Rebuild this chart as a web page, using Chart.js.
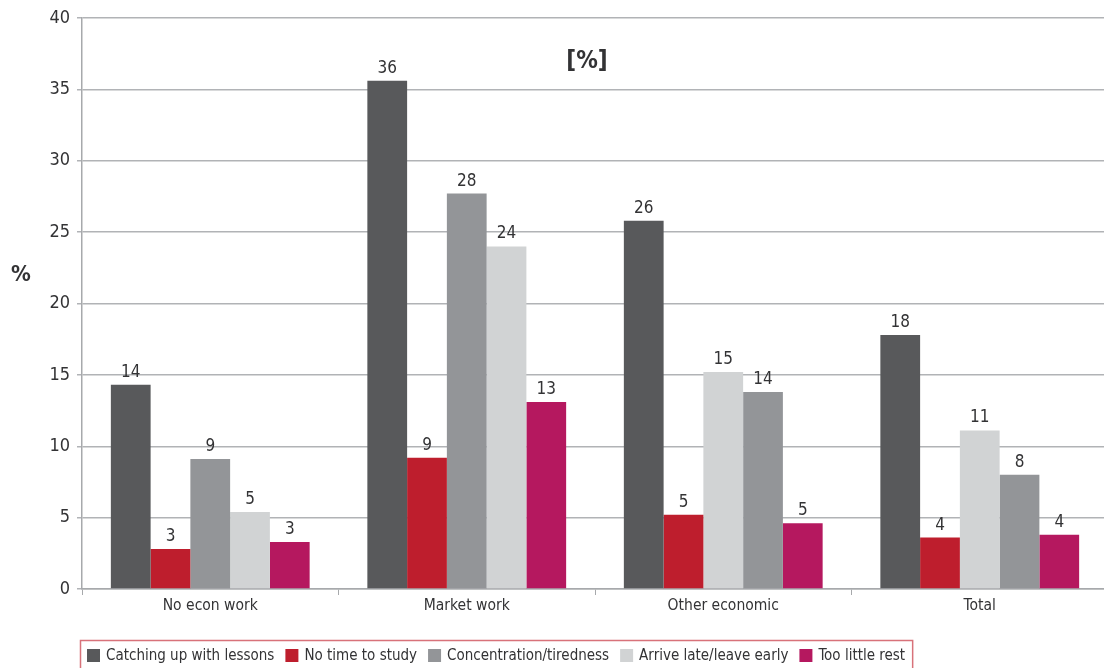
<!DOCTYPE html>
<html>
<head>
<meta charset="utf-8">
<script src="https://cdn.jsdelivr.net/npm/chart.js@4.4.1/dist/chart.umd.min.js"></script>
<style>
  html, body { margin: 0; padding: 0; background: #fff; overflow: hidden; }
  #wrap { width: 1108px; height: 668px; }
</style>
</head>
<body>
<div id="wrap"><canvas id="chart" width="1108" height="668"></canvas></div>
<script>
const categories = ['No econ work', 'Market work', 'Other economic', 'Total'];
const seriesNames = ['Catching up with lessons', 'No time to study', 'Concentration/tiredness', 'Arrive late/leave early', 'Too little rest'];
const seriesColors = ['#58595b', '#be1e2d', '#939598', '#d1d3d4', '#b5185f'];

const catchingUp = [14.3, 35.6, 25.8, 17.8];
const noTimeToStudy = [2.8, 9.2, 5.2, 3.6];
const concentration = [9.1, 27.7, 13.8, 8.0];
const arriveLate = [5.4, 24.0, 15.2, 11.1];
const tooLittleRest = [3.3, 13.1, 4.6, 3.8];

// order of the series inside each group (the last two groups swap the grey bars)
const barOrder = [[0, 1, 2, 3, 4], [0, 1, 2, 3, 4], [0, 1, 3, 2, 4], [0, 1, 3, 2, 4]];

const yMax = 40;
const yStep = 5;

const seriesValues = [catchingUp, noTimeToStudy, concentration, arriveLate, tooLittleRest];
const FONT = '"Liberation Sans Narrow", "DejaVu Sans Condensed", "Roboto Condensed", sans-serif';
const TEXT = '#333335';

const datasets = [0, 1, 2, 3, 4].map(slot => ({
  label: 'slot ' + slot,
  data: categories.map((c, i) => seriesValues[barOrder[i][slot]][i]),
  backgroundColor: categories.map((c, i) => seriesColors[barOrder[i][slot]]),
  borderWidth: 0,
  barPercentage: 1,
  categoryPercentage: 0.775
}));

const extras = {
  id: 'extras',
  afterDatasetsDraw(chart) {
    const ctx = chart.ctx;
    ctx.save();
    ctx.fillStyle = TEXT;
    ctx.font = '17px ' + FONT;
    ctx.textAlign = 'center';
    ctx.textBaseline = 'bottom';
    chart.data.datasets.forEach((ds, di) => {
      chart.getDatasetMeta(di).data.forEach((bar, i) => {
        ctx.fillText(Math.round(ds.data[i]), bar.x, bar.y - 4);
      });
    });
    ctx.restore();
  },
  afterDraw(chart) {
    const ctx = chart.ctx;
    ctx.save();
    ctx.fillStyle = TEXT;
    ctx.textAlign = 'center';
    ctx.textBaseline = 'middle';
    ctx.font = 'bold 24px ' + FONT;
    ctx.fillText('[%]', 587, 62);
    ctx.font = 'bold 22px ' + FONT;
    ctx.fillText('%', 21, 275);

    // legend
    ctx.font = '15px ' + FONT;
    ctx.textAlign = 'left';
    let x = 87;
    const cy = 656;
    seriesNames.forEach((name, i) => {
      ctx.fillStyle = seriesColors[i];
      ctx.fillRect(x, cy - 7, 13, 13);
      ctx.fillStyle = TEXT;
      ctx.fillText(name, x + 19, cy);
      x += 19 + ctx.measureText(name).width + 11;
    });
    ctx.strokeStyle = '#d8727a';
    ctx.lineWidth = 1.5;
    ctx.strokeRect(80.5, 640.5, x - 4 - 80, 40);
    ctx.restore();
  }
};

new Chart(document.getElementById('chart'), {
  type: 'bar',
  data: { labels: categories, datasets: datasets },
  plugins: [extras],
  options: {
    responsive: false,
    animation: false,
    layout: { padding: { top: 18, right: 0, bottom: 0, left: 0 } },
    plugins: {
      legend: { display: false },
      tooltip: { enabled: false }
    },
    scales: {
      x: {
        afterFit(scale) { scale.height = 79; },
        grid: { offset: true, drawOnChartArea: false, color: '#a7a9ac', tickLength: 6 },
        border: { color: '#a7a9ac', width: 1.5 },
        ticks: { color: TEXT, font: { family: FONT, size: 15.5 }, padding: 2 }
      },
      y: {
        min: 0,
        max: yMax,
        afterFit(scale) { scale.width = 82; },
        grid: { color: '#b1b3b6', lineWidth: 1.5, tickLength: 5 },
        border: { color: '#a7a9ac', width: 1.5 },
        ticks: { stepSize: yStep, color: TEXT, font: { family: FONT, size: 18 }, padding: 7 }
      }
    }
  }
});
</script>
</body>
</html>
